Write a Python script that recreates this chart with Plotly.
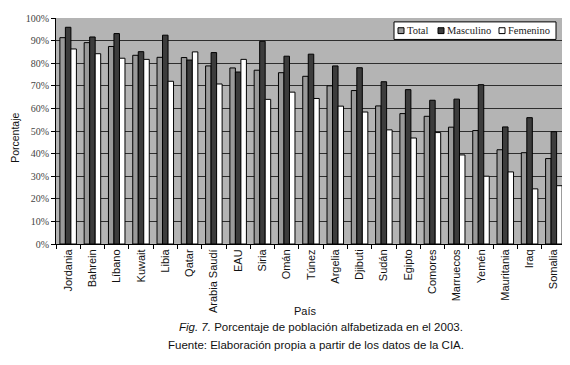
import plotly.graph_objects as go

paises = ["Jordania", "Bahrein", "Líbano", "Kuwait", "Libia", "Qatar", "Arabia Saudí", "EAU", "Siria", "Omán",
          "Túnez", "Argelia", "Djibuti", "Sudán", "Egipto", "Comores", "Marruecos", "Yemén", "Mauritania", "Iraq", "Somalia"]
total = [91.3, 89.1, 87.4, 83.5, 82.6, 82.5, 78.8, 77.9, 76.9, 75.8,
         74.2, 70.0, 67.9, 61.1, 57.7, 56.5, 51.7, 50.2, 41.7, 40.4, 37.8]
masculino = [95.9, 91.6, 93.1, 85.1, 92.4, 81.4, 84.7, 76.1, 89.7, 83.1,
             84.0, 78.8, 78.0, 71.8, 68.3, 63.6, 64.1, 70.5, 51.8, 55.9, 49.7]
femenino = [86.3, 84.2, 82.2, 81.7, 72.0, 85.0, 70.8, 81.7, 64.0, 67.2,
            64.4, 61.0, 58.4, 50.5, 46.9, 49.3, 39.4, 30.0, 31.9, 24.4, 25.8]
yticks = [0, 10, 20, 30, 40, 50, 60, 70, 80, 90, 100]
ytick_labels = [f"{v}%" for v in yticks]
series_names = ["Total", "Masculino", "Femenino"]
series_values = [total, masculino, femenino]
series_colors = ["#9a9a9a", "#3c3c3c", "#ffffff"]

W, H = 562, 357
L, R, T, B = 48, 4, 4, 121
PW, PH = W - L - R, H - T - B
OFF = 8  # page body margin


def px(xp):
    return (xp - OFF - L) / PW


def py(yp):
    return (H - B - (yp - OFF)) / PH


sans = "Liberation Sans, Arial, sans-serif"
serif = "Liberation Serif, Times New Roman, serif"

fig = go.Figure()
for name, vals, col in zip(series_names, series_values, series_colors):
    fig.add_trace(go.Bar(x=paises, y=vals, name=name, showlegend=False,
                         marker=dict(color=col, line=dict(color="#000000", width=1))))

top = OFF + T
shapes = [dict(type="rect", xref="paper", yref="paper", x0=px(394), x1=px(556), y0=py(top + 22), y1=py(top + 4),
               fillcolor="#ffffff", line=dict(color="#000000", width=1), layer="above")]
annotations = []
leg_x = [398, 438, 499]
for xs, name, col in zip(leg_x, series_names, series_colors):
    shapes.append(dict(type="rect", xref="paper", yref="paper", x0=px(xs), x1=px(xs + 6),
                       y0=py(top + 16), y1=py(top + 10),
                       fillcolor=col, line=dict(color="#000000", width=1), layer="above"))
    annotations.append(dict(text=name, x=px(xs + 7), y=py(top + 13), xref="paper", yref="paper", xanchor="left",
                            yanchor="middle", showarrow=False, font=dict(family=serif, size=10.5, color="#222222")))

annotations += [
    dict(text="País", x=px(305), y=py(313), xref="paper", yref="paper", showarrow=False,
         xanchor="center", yanchor="middle", font=dict(family=sans, size=11, color="#111111")),
    dict(text="Porcentaje", x=px(15), y=py(135), xref="paper", yref="paper", textangle=-90, showarrow=False,
         xanchor="center", yanchor="middle", font=dict(family=sans, size=10.5, color="#111111")),
    dict(text="<i>Fig. 7.</i> Porcentaje de población alfabetizada en el 2003.",
         x=px(321), y=py(329), xref="paper", yref="paper", showarrow=False,
         xanchor="center", yanchor="middle", font=dict(family=sans, size=11.5, color="#111111")),
    dict(text="Fuente: Elaboración propia a partir de los datos de la CIA.",
         x=px(316), y=py(348), xref="paper", yref="paper", showarrow=False,
         xanchor="center", yanchor="middle", font=dict(family=sans, size=11.5, color="#111111")),
]

fig.update_layout(
    width=W, height=H,
    margin=dict(l=L, r=R, t=T, b=B),
    paper_bgcolor="#ffffff", plot_bgcolor="#b4b4b4",
    barmode="group", bargap=0.32, bargroupgap=0,
    showlegend=False,
    xaxis=dict(type="category", tickson="boundaries", ticks="outside", ticklen=4, tickcolor="#000000",
               showline=True, linecolor="#000000", linewidth=1, showgrid=False,
               tickangle=-90, tickfont=dict(family=sans, size=11, color="#111111")),
    yaxis=dict(range=[0, 100], tickvals=yticks, ticktext=ytick_labels, ticks="outside", ticklen=4,
               tickcolor="#000000", showline=True, linecolor="#000000", linewidth=1,
               showgrid=True, gridcolor="#2e2e2e", gridwidth=1, zeroline=False,
               ticklabeloverflow="allow",
               tickfont=dict(family=serif, size=10, color="#444444")),
    shapes=shapes,
    annotations=annotations,
)

fig.write_html("out.html")
